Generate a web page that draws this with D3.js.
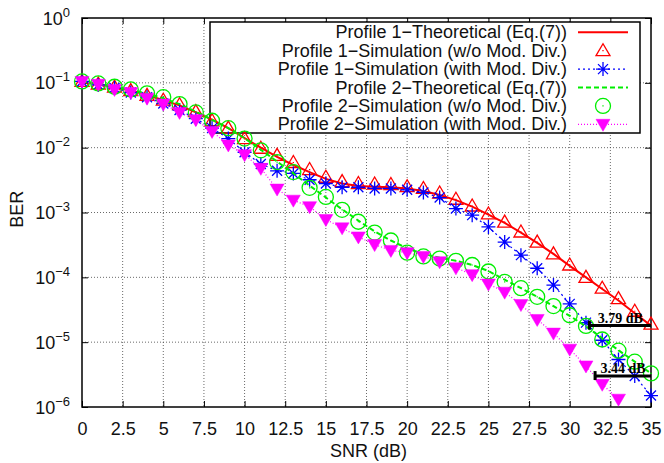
<!DOCTYPE html>
<html>
<head>
<meta charset="utf-8">
<script src="https://cdn.jsdelivr.net/npm/d3@7"></script>
<style>
  body { margin: 0; background: #fff; }
</style>
</head>
<body>
<div id="chart"></div>
<script>
// SNR points (dB)
const snrDb = [0, 1, 2, 3, 4, 5, 6, 7, 8, 9, 10, 11, 12, 13, 14, 15, 16, 17, 18, 19, 20,
  21, 22, 23, 24, 25, 26, 27, 28, 29, 30, 31, 32, 33, 34, 35];

const xTicks = [0, 2.5, 5, 7.5, 10, 12.5, 15, 17.5, 20, 22.5, 25, 27.5, 30, 32.5, 35];
const yTicks = [1, 1e-1, 1e-2, 1e-3, 1e-4, 1e-5, 1e-6];
const yTickExp = ["0", "\u22121", "\u22122", "\u22123", "\u22124", "\u22125", "\u22126"];

const legendLabels = [
  "Profile 1\u2212Theoretical (Eq.(7))",
  "Profile 1\u2212Simulation (w/o Mod. Div.)",
  "Profile 1\u2212Simulation (with Mod. Div.)",
  "Profile 2\u2212Theoretical (Eq.(7))",
  "Profile 2\u2212Simulation (w/o Mod. Div.)",
  "Profile 2\u2212Simulation (with Mod. Div.)"
];

// BER values
const p1Theory = [1.05e-1, 9.5e-2, 8.5e-2, 7.6e-2, 6.5e-2, 5.4e-2, 4.5e-2, 3.5e-2, 2.7e-2, 2.0e-2,
  1.41e-2, 1.0e-2, 7.2e-3, 5.4e-3, 4.2e-3, 3.3e-3, 2.8e-3, 2.57e-3, 2.5e-3, 2.45e-3,
  2.35e-3, 2.14e-3, 1.86e-3, 1.55e-3, 1.23e-3, 9.3e-4, 6.9e-4, 4.9e-4, 3.4e-4, 2.3e-4,
  1.5e-4, 1.0e-4, 6.6e-5, 4.4e-5, 2.8e-5, 1.8e-5];

const p1SimNoDiv = [1.05e-1, 9.6e-2, 8.6e-2, 7.6e-2, 6.4e-2, 5.4e-2, 4.6e-2, 3.6e-2, 2.6e-2, 2.0e-2,
  1.38e-2, 9.8e-3, 7.6e-3, 5.9e-3, 4.6e-3, 3.5e-3, 3.0e-3, 2.8e-3, 2.75e-3, 2.7e-3,
  2.5e-3, 2.35e-3, 2.0e-3, 1.6e-3, 1.26e-3, 9.5e-4, 7.1e-4, 5.0e-4, 3.5e-4, 2.3e-4,
  1.55e-4, 1.0e-4, 6.8e-5, 4.7e-5, 3.0e-5, 1.9e-5];

const p1SimModDiv = [1.05e-1, 9.3e-2, 8.3e-2, 7.1e-2, 6.0e-2, 4.8e-2, 3.8e-2, 2.8e-2, 2.0e-2, 1.38e-2,
  8.5e-3, 5.6e-3, 4.4e-3, 4.0e-3, 3.2e-3, 2.8e-3, 2.45e-3, 2.45e-3, 2.35e-3, 2.35e-3,
  2.24e-3, 2.04e-3, 1.7e-3, 1.15e-3, 9.1e-4, 6.0e-4, 3.5e-4, 2.2e-4, 1.38e-4, 7.6e-5,
  3.9e-5, 2.0e-5, 1.07e-5, 5.4e-6, 3.0e-6, 1.5e-6];

const p2Theory = [1.05e-1, 9.7e-2, 8.7e-2, 7.8e-2, 6.8e-2, 5.8e-2, 4.7e-2, 3.6e-2, 2.7e-2, 2.0e-2,
  1.4e-2, 9.3e-3, 6.1e-3, 4.0e-3, 2.6e-3, 1.7e-3, 1.12e-3, 7.5e-4, 5.1e-4, 3.7e-4,
  2.8e-4, 2.3e-4, 2.0e-4, 1.8e-4, 1.55e-4, 1.25e-4, 9.2e-5, 6.8e-5, 5.0e-5, 3.6e-5,
  2.55e-5, 1.75e-5, 1.15e-5, 7.5e-6, 5.0e-6, 3.3e-6];

const p2SimNoDiv = [1.05e-1, 9.8e-2, 8.7e-2, 7.9e-2, 6.9e-2, 6.0e-2, 4.7e-2, 3.5e-2, 2.6e-2, 2.0e-2,
  1.38e-2, 9.1e-3, 6.0e-3, 4.2e-3, 2.4e-3, 1.74e-3, 1.1e-3, 7.2e-4, 4.9e-4, 3.7e-4,
  2.4e-4, 2.1e-4, 1.95e-4, 1.8e-4, 1.55e-4, 1.23e-4, 8.5e-5, 6.8e-5, 5.0e-5, 3.6e-5,
  2.6e-5, 1.78e-5, 1.1e-5, 7.4e-6, 5.0e-6, 3.3e-6];

// last two points fall below 1e-6 and are not shown
const p2SimModDiv = [1.05e-1, 9.5e-2, 7.9e-2, 7.1e-2, 5.8e-2, 4.7e-2, 3.5e-2, 2.7e-2, 1.78e-2, 1.1e-2,
  7.8e-3, 4.8e-3, 2.3e-3, 1.55e-3, 1.23e-3, 7.8e-4, 5.8e-4, 4.2e-4, 3.2e-4, 2.6e-4,
  2.4e-4, 2.1e-4, 1.74e-4, 1.4e-4, 1.1e-4, 7.9e-5, 5.9e-5, 3.8e-5, 2.24e-5, 1.38e-5,
  7.8e-6, 4.3e-6, 2.24e-6, 1.32e-6];

// SNR gap annotations at the right end
const gapLabels = ["3.79 dB", "3.44 dB"];
const gapDb = [3.79, 3.44];
const gapBer = [1.8e-5, 3.0e-6];

class Chart {
  constructor() {
    const attrs = {
      container: "#chart",
      svgWidth: 664,
      svgHeight: 463,
      marginTop: 18,
      marginBottom: 56,
      marginLeft: 82,
      marginRight: 13,
      defaultFont: "'Liberation Sans', Arial, Helvetica, sans-serif",
      noteFont: "'Liberation Serif', 'Times New Roman', serif",
      fontSize: 18,
      chartWidth: null,
      chartHeight: null
    };
    this.getState = () => attrs;
    this.setState = (d) => Object.assign(attrs, d);
    this.initializeEnterExitUpdatePattern();
  }

  render() {
    this.calculateProperties();
    this.drawSvgAndWrappers();
    this.drawGrid();
    this.drawAxes();
    this.drawLegendBox();
    this.drawSeries();
    this.drawGaps();
    this.drawLegendEntries();
    return this;
  }

  calculateProperties() {
    const { svgWidth, svgHeight, marginLeft, marginRight, marginTop, marginBottom } = this.getState();
    const chartWidth = svgWidth - marginLeft - marginRight;
    const chartHeight = svgHeight - marginTop - marginBottom;
    const x = d3.scaleLinear().domain([0, 35]).range([0, chartWidth]);
    const y = d3.scaleLog().domain([1e-6, 1]).range([chartHeight, 0]);

    const toPoints = (vals) => vals.map((v, i) => ({ x: snrDb[i], y: v }));
    const series = [
      { id: "p1t", label: legendLabels[0], data: toPoints(p1Theory), color: "#ff0000", dash: null, width: 2, marker: null },
      { id: "p1s", label: legendLabels[1], data: toPoints(p1SimNoDiv), color: "#ff0000", dash: null, width: 0, marker: "triUp" },
      { id: "p1m", label: legendLabels[2], data: toPoints(p1SimModDiv), color: "#0000ff", dash: "2,3", width: 1.2, marker: "star" },
      { id: "p2t", label: legendLabels[3], data: toPoints(p2Theory), color: "#00ee00", dash: "5,3", width: 2, marker: null },
      { id: "p2s", label: legendLabels[4], data: toPoints(p2SimNoDiv), color: "#00ee00", dash: null, width: 0, marker: "circle" },
      { id: "p2m", label: legendLabels[5], data: toPoints(p2SimModDiv), color: "#ff00ff", dash: "1,2", width: 1.2, marker: "triDown" }
    ];

    this.setState({ chartWidth, chartHeight, x, y, series });
  }

  drawSvgAndWrappers() {
    const { container, svgWidth, svgHeight, defaultFont, marginLeft, marginTop } = this.getState();
    const svg = d3.select(container)
      ._add({ tag: "svg", className: "svg-chart-container" })
      .attr("width", svgWidth)
      .attr("height", svgHeight)
      .attr("font-family", defaultFont);

    svg._add({ tag: "rect", className: "bg" })
      .attr("width", svgWidth).attr("height", svgHeight).attr("fill", "#fff");

    const chart = svg._add({ tag: "g", className: "chart" })
      .attr("transform", `translate(${marginLeft},${marginTop})`);

    this.setState({ svg, chart });
  }

  drawGrid() {
    const { chart, x, y, chartWidth, chartHeight } = this.getState();
    const grid = chart._add({ tag: "g", className: "grid" });

    grid._add({ tag: "line", className: "grid-x", data: xTicks.slice(1, -1) })
      .attr("x1", d => x(d)).attr("x2", d => x(d))
      .attr("y1", 0).attr("y2", chartHeight)
      .attr("stroke", "#444").attr("stroke-width", 0.8).attr("stroke-dasharray", "1,2");

    grid._add({ tag: "line", className: "grid-y", data: yTicks.slice(1, -1) })
      .attr("x1", 0).attr("x2", chartWidth)
      .attr("y1", d => y(d)).attr("y2", d => y(d))
      .attr("stroke", "#444").attr("stroke-width", 0.8).attr("stroke-dasharray", "1,2");
  }

  drawAxes() {
    const { chart, x, y, chartWidth, chartHeight, fontSize, defaultFont } = this.getState();

    const xAxis = chart._add({ tag: "g", className: "x-axis" })
      .attr("transform", `translate(0,${chartHeight})`)
      .call(d3.axisBottom(x).tickValues(xTicks).tickSize(-6).tickPadding(15).tickFormat(d => String(d)));
    xAxis.select(".domain").remove();
    xAxis.selectAll("text").attr("font-size", fontSize).attr("font-family", defaultFont).attr("fill", "#111");

    const xTop = chart._add({ tag: "g", className: "x-axis-top" })
      .call(d3.axisTop(x).tickValues(xTicks).tickSize(-6).tickFormat(""));
    xTop.select(".domain").remove();

    const yAxis = chart._add({ tag: "g", className: "y-axis" })
      .call(d3.axisLeft(y).tickValues(yTicks).tickSize(-6).tickFormat(""));
    yAxis.select(".domain").remove();
    yAxis.selectAll(".tick").each(function (d, i) {
      const t = d3.select(this).append("text")
        .attr("x", -12).attr("y", 6)
        .attr("text-anchor", "end")
        .attr("fill", "#111")
        .attr("font-family", defaultFont)
        .attr("font-size", fontSize);
      t.append("tspan").text("10");
      t.append("tspan").attr("dy", -8).attr("font-size", 13).text(yTickExp[i]);
    });

    const yRight = chart._add({ tag: "g", className: "y-axis-right" })
      .attr("transform", `translate(${chartWidth},0)`)
      .call(d3.axisRight(y).tickValues(yTicks).tickSize(-6).tickFormat(""));
    yRight.select(".domain").remove();

    chart.selectAll(".tick line").attr("stroke", "#000").attr("stroke-width", 1);

    // frame
    chart._add({ tag: "rect", className: "frame" })
      .attr("width", chartWidth).attr("height", chartHeight)
      .attr("fill", "none").attr("stroke", "#000").attr("stroke-width", 1.5);

    // axis titles
    chart._add({ tag: "text", className: "x-title" })
      .attr("x", chartWidth / 2 + 2).attr("y", chartHeight + 50)
      .attr("text-anchor", "middle").attr("font-size", fontSize).attr("fill", "#111")
      .text("SNR (dB)");

    chart._add({ tag: "text", className: "y-title" })
      .attr("transform", `translate(-59,${y(10 ** -2.95)}) rotate(-90)`)
      .attr("text-anchor", "middle").attr("font-size", fontSize).attr("fill", "#111")
      .text("BER");
  }

  drawLegendBox() {
    const { chart } = this.getState();
    chart._add({ tag: "rect", className: "legend-box" })
      .attr("x", 128).attr("y", 4)
      .attr("width", 430).attr("height", 111)
      .attr("fill", "#fff").attr("stroke", "#000").attr("stroke-width", 1.5);
  }

  markerPath(kind) {
    const paths = {
      triUp: "M-7,5L7,5L0,-7Z M0,0.6L0,-0.6",
      triDown: "M-7,-5L7,-5L0,7Z",
      star: "M-7,0L7,0M0,-7L0,7M-5,-5L5,5M-5,5L5,-5",
      circle: "M7.5,0A7.5,7.5 0 1,1 -7.5,0A7.5,7.5 0 1,1 7.5,0Z M0,0.6L0,-0.6"
    };
    return paths[kind];
  }

  drawMarkers(sel, s) {
    const filled = s.marker === "triDown";
    sel.attr("d", this.markerPath(s.marker))
      .attr("fill", filled ? s.color : "none")
      .attr("stroke", s.color)
      .attr("stroke-width", filled ? 0.5 : 1.3);
  }

  drawSeries() {
    const { chart, x, y, series } = this.getState();
    const line = d3.line().x(d => x(d.x)).y(d => y(d.y));
    const layer = chart._add({ tag: "g", className: "series-layer" });
    const self = this;

    const groups = layer._add({ tag: "g", className: "series", data: series });
    groups.each(function (s) {
      const g = d3.select(this);
      if (s.width > 0) {
        g._add({ tag: "path", className: "series-line", data: [s.data] })
          .attr("d", line)
          .attr("fill", "none")
          .attr("stroke", s.color)
          .attr("stroke-width", s.width)
          .attr("stroke-dasharray", s.dash);
      }
      if (s.marker) {
        const m = g._add({ tag: "path", className: "series-marker", data: s.data })
          .attr("transform", d => `translate(${x(d.x)},${y(d.y)})`);
        self.drawMarkers(m, s);
      }
    });
  }

  drawGaps() {
    const { chart, x, y, noteFont } = this.getState();
    const gaps = gapLabels.map((label, i) => ({ label, db: gapDb[i], ber: gapBer[i] }));
    const g = chart._add({ tag: "g", className: "gaps" });

    g._add({ tag: "line", className: "gap-line", data: gaps })
      .attr("x1", d => x(35 - d.db)).attr("x2", d => x(35))
      .attr("y1", d => y(d.ber)).attr("y2", d => y(d.ber))
      .attr("stroke", "#000").attr("stroke-width", 3);

    g._add({ tag: "line", className: "gap-tick", data: gaps })
      .attr("x1", d => x(35 - d.db)).attr("x2", d => x(35 - d.db))
      .attr("y1", d => y(d.ber) - 5).attr("y2", d => y(d.ber) + 4)
      .attr("stroke", "#000").attr("stroke-width", 3);

    g._add({ tag: "text", className: "gap-label", data: gaps })
      .attr("x", d => (x(35 - d.db) + x(35)) / 2)
      .attr("y", d => y(d.ber) - 3)
      .attr("text-anchor", "middle")
      .attr("font-family", noteFont)
      .attr("font-weight", "bold")
      .attr("font-size", 14)
      .attr("fill", "#000")
      .text(d => d.label);
  }

  drawLegendEntries() {
    const { chart, series, fontSize } = this.getState();
    const self = this;
    const rows = chart._add({ tag: "g", className: "legend-row", data: series })
      .attr("transform", (d, i) => `translate(0,${20.3 + i * 18.4})`);

    rows.each(function (s) {
      const r = d3.select(this);
      r._add({ tag: "text", className: "legend-text" })
        .attr("x", 485).attr("y", 0)
        .attr("text-anchor", "end")
        .attr("font-size", fontSize)
        .attr("fill", "#111")
        .text(s.label);
      if (s.width > 0) {
        r._add({ tag: "line", className: "legend-line" })
          .attr("x1", 496).attr("x2", 546).attr("y1", -6).attr("y2", -6)
          .attr("stroke", s.color).attr("stroke-width", s.width)
          .attr("stroke-dasharray", s.dash);
      }
      if (s.marker) {
        const m = r._add({ tag: "path", className: "legend-marker" })
          .attr("transform", "translate(521,-6)");
        self.drawMarkers(m, s);
      }
    });
  }

  initializeEnterExitUpdatePattern() {
    d3.selection.prototype._add = function (params) {
      const container = this;
      const className = params.className;
      const data = params.data || [className];
      let selection = container.selectAll(":scope > ." + className).data(data);
      selection.exit().remove();
      selection = selection.enter().append(params.tag).merge(selection);
      selection.attr("class", className);
      return selection;
    };
  }
}

new Chart().render();
</script>
</body>
</html>
